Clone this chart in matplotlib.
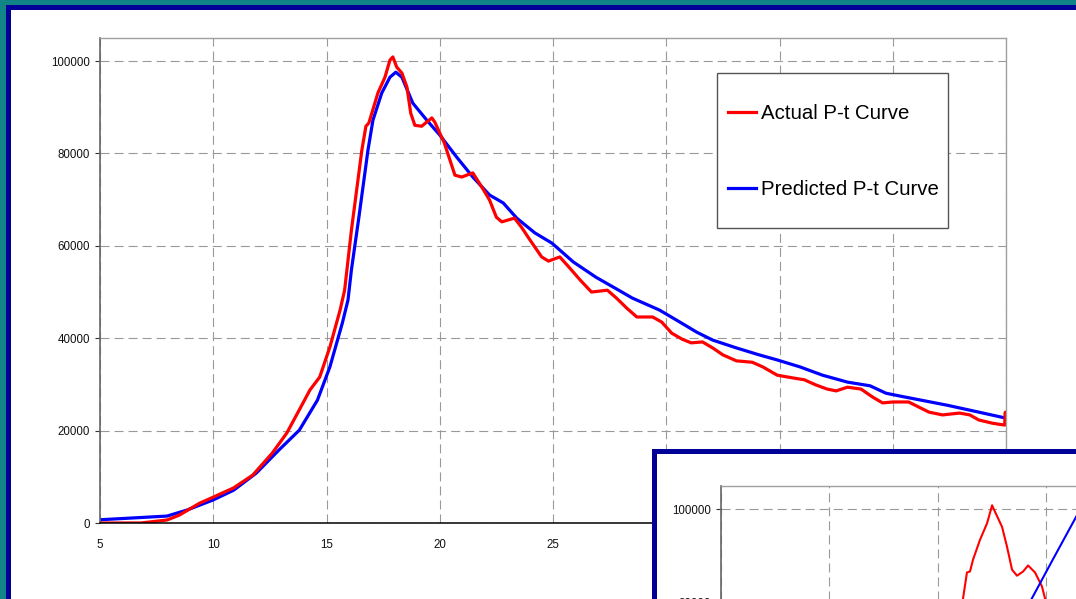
import matplotlib
matplotlib.use('Agg')
import matplotlib.pyplot as plt
from matplotlib.patches import Rectangle
from matplotlib.ticker import StrMethodFormatter

plt.rcParams['font.family'] = ['Liberation Sans', 'DejaVu Sans']
plt.rcParams['lines.scale_dashes'] = False

# main chart: actual vs predicted P-t curve
actual_t = [5.0, 6.8, 7.96, 8.5, 9.4, 10.0, 10.9, 11.75, 12.6, 13.25, 13.8, 14.27, 14.7,
            15.15, 15.6, 15.8, 16.1, 16.56, 16.74, 16.87, 17.27, 17.58, 17.8, 17.93, 18.1,
            18.33, 18.55, 18.72, 18.9, 19.2, 19.65, 19.78, 20.2, 20.67, 20.97, 21.46, 21.86,
            22.2, 22.5, 22.74, 23.3, 23.6, 23.98, 24.5, 24.8, 25.3, 25.74, 26.2, 26.7, 27.4,
            27.8, 28.26, 28.7, 29.4, 29.8, 30.24, 30.7, 31.1, 31.6, 32.05, 32.5, 33.1, 33.8,
            34.26, 34.9, 35.6, 36.1, 36.6, 37.1, 37.5, 38.0, 38.6, 39.1, 39.55, 40.0, 40.7,
            41.6, 42.2, 42.95, 43.4, 43.8, 44.4, 44.94, 44.97, 45.0]
actual_p = [0, 0, 650, 1700, 4300, 5600, 7600, 10400, 15100, 19500, 24500, 28800, 31600,
            38100, 46100, 50400, 63400, 80700, 85900, 86600, 93100, 96500, 100200, 100900, 98700,
            97400, 94400, 88700, 86100, 85900, 87700, 86800, 82300, 75300, 74900, 75800, 72700,
            69900, 66200, 65200, 66000, 64100, 61300, 57600, 56700, 57600, 55200, 52600, 50000, 50400,
            48700, 46500, 44600, 44600, 43500, 41100, 39800, 39000, 39200, 37900, 36400, 35100, 34800,
            33800, 32000, 31400, 31000, 29900, 29000, 28600, 29400, 29000, 27300, 26000, 26200, 26200,
            24000, 23400, 23800, 23400, 22300, 21600, 21200, 24000, 21400]

pred_t = [5.0, 7.96, 8.84, 10.0, 10.9, 11.9, 12.9, 13.8, 14.6, 15.15, 15.7, 15.95, 16.1,
          16.43, 16.83, 17.05, 17.44, 17.8, 18.06, 18.33, 18.81, 19.43, 20.0, 20.75, 21.46,
          22.2, 22.8, 23.4, 24.2, 24.95, 25.9, 26.9, 27.9, 28.5, 29.7, 30.6, 31.35, 32.05,
          33.1, 34.1, 34.9, 35.9, 36.9, 38.0, 39.0, 39.7, 40.3, 42.4, 43.8, 45.0]
pred_p = [700, 1500, 2800, 5000, 7100, 10800, 15800, 20100, 26600, 33800, 43300, 48300, 54800,
          66200, 80700, 87200, 93100, 96500, 97600, 96500, 90900, 87200, 84000, 79200, 74900,
          71000, 69300, 66000, 62800, 60600, 56500, 53200, 50400, 48700, 46100, 43500, 41300, 39600,
          37900, 36400, 35300, 33800, 32000, 30500, 29700, 28100, 27500, 25500, 24000, 22700]

# second (cut off) chart in the lower right corner
inset_actual_t = [15.8, 16.0, 16.17, 16.35, 16.49, 16.63, 16.95, 17.28, 17.51, 17.65, 17.97,
                  18.2, 18.43, 18.66, 18.94, 19.17, 19.49, 19.81, 19.95, 20.2, 20.5]
inset_actual_p = [60000, 72000, 80850, 86400, 86600, 89150, 93400, 97000, 100850, 99400, 96200,
                  91900, 87000, 85700, 86600, 87900, 86400, 83400, 80850, 74000, 66000]
inset_pred_t = [18.9, 19.35, 20.35, 21.38, 21.8]
inset_pred_p = [77000, 80850, 89500, 98300, 101900]

xticks = list(range(5, 46, 5))
yticks = list(range(0, 100001, 20000))
inset_yticks = [80000, 100000]

W, H = 1076, 599

def box(left, top, right, bottom):
  return [left / W, 1 - bottom / H, (right - left) / W, (bottom - top) / H]

fig = plt.figure(figsize=(W / 100, H / 100), dpi=100)
fig.patch.set_facecolor('#118585')

# slide panel
fig.patches.append(Rectangle((7.5 / W, -0.2), 1.2, (H - 6.5) / H + 0.2, transform=fig.transFigure,
                             facecolor='white', edgecolor='#000099', lw=3.6, zorder=-1))

grid_style = dict(color='#999999', lw=0.8, linestyle=(0, (6.5, 3.6)))


def style_axes(a, yt):
  a.set_facecolor('none')
  a.set_xlim(5, 45)
  a.set_ylim(0, 105000)
  a.set_xticks(xticks)
  a.set_yticks(yt)
  a.yaxis.set_major_formatter(StrMethodFormatter('{x:.0f}'))
  a.grid(True, **grid_style)
  a.tick_params(axis='y', direction='out', length=3.5, width=0.8, color='#333333',
                labelsize=8.3, pad=3.6, labelcolor='#111111')
  a.tick_params(axis='x', length=0, labelsize=8.3, pad=11.5, labelcolor='#111111')
  a.spines['left'].set_color('#666666')
  a.spines['left'].set_linewidth(1.2)
  for s in ('top', 'right'):
    a.spines[s].set_color('#a0a0a0')
    a.spines[s].set_linewidth(1.0)
  a.spines['bottom'].set_color('black')
  a.spines['bottom'].set_linewidth(1.1)


ax = fig.add_axes(box(100, 38, 1006, 523))
style_axes(ax, yticks)
ax.plot(actual_t, actual_p, color='#ff0000', lw=2.3, label='Actual P-t Curve', zorder=2.2)
ax.plot(pred_t, pred_p, color='#0000ff', lw=2.3, label='Predicted P-t Curve', zorder=2.1)

# legend box
ax.add_patch(Rectangle((717 / W, 1 - 228 / H), 231 / W, 155 / H, transform=fig.transFigure,
                       facecolor='white', edgecolor='#555555', lw=1.0, zorder=3, clip_on=False))
ax.legend(loc='upper left', bbox_to_anchor=(728 / W, 1 - 104 / H), bbox_transform=fig.transFigure,
          frameon=False, fontsize=14.7, handlelength=1.37, handletextpad=0.25,
          borderpad=0, borderaxespad=0, labelspacing=2.78)

# inset frame and chart
fig.patches.append(Rectangle((653.5 / W, -0.3), 0.5, (H - 450.5) / H + 0.3, transform=fig.transFigure,
                             facecolor='white', edgecolor='#000099', lw=3.6, zorder=2))
ax2 = fig.add_axes(box(721, 486, 1587.8, 974))
ax2.set_zorder(3)
style_axes(ax2, inset_yticks)
ax2.tick_params(axis='x', labelbottom=False)
ax2.plot(inset_actual_t, inset_actual_p, color='#ff0000', lw=1.5)
ax2.plot(inset_pred_t, inset_pred_p, color='#0000ff', lw=1.5)

fig.savefig('out.png', dpi=100)
